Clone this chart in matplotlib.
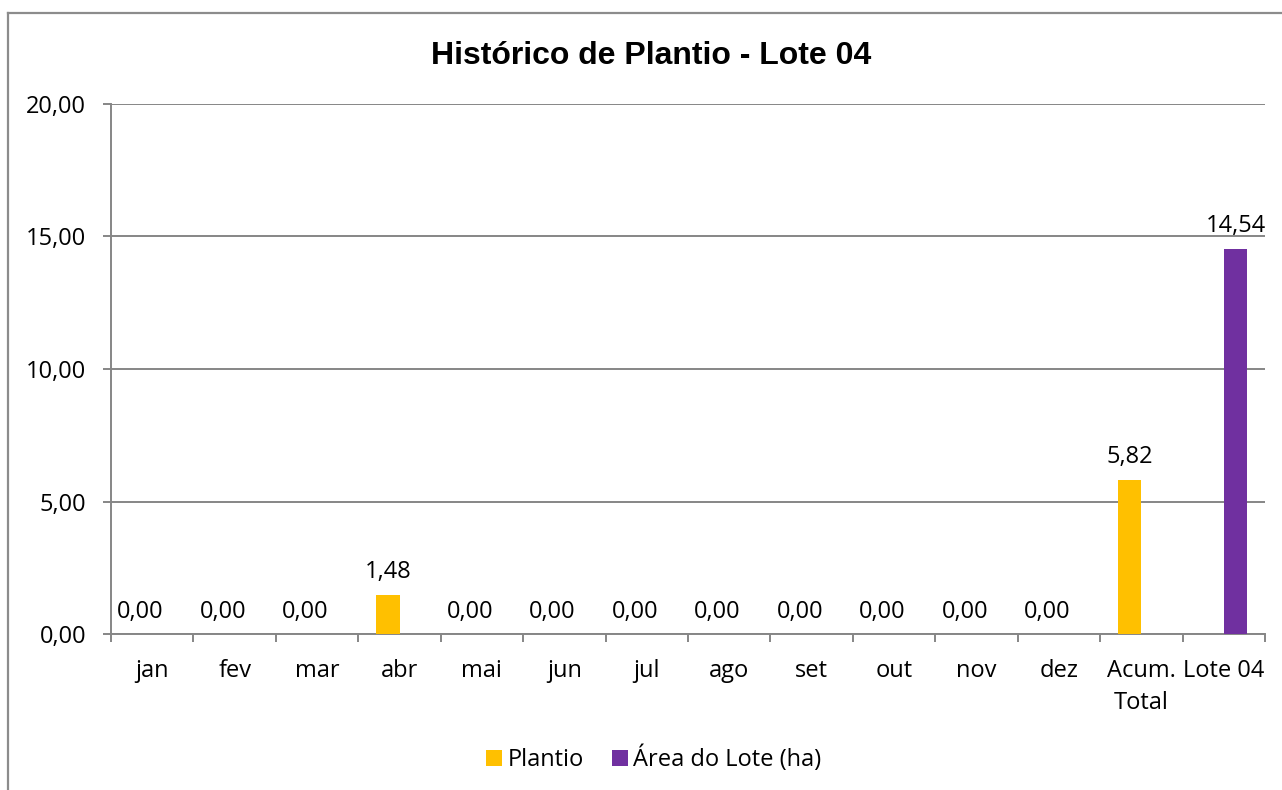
import matplotlib
matplotlib.use("Agg")
import matplotlib.pyplot as plt
from matplotlib.patches import Patch
from matplotlib.lines import Line2D
import numpy as np

categories = ["jan", "fev", "mar", "abr", "mai", "jun", "jul", "ago", "set",
              "out", "nov", "dez", "Acum.\nTotal", "Lote 04"]
plantio = [0.00, 0.00, 0.00, 1.48, 0.00, 0.00, 0.00, 0.00, 0.00,
           0.00, 0.00, 0.00, 5.82, None]
area_lote = [None] * 13 + [14.54]
series_names = ["Plantio", "Área do Lote (ha)"]
title = "Histórico de Plantio - Lote 04"
yticks = [0, 5, 10, 15, 20]

W, H = 1282, 790
fig = plt.figure(figsize=(W / 100, H / 100), dpi=100)
LF = "Open Sans"
FS = 17

# outer chart frame (cropped at right/bottom)
fig.add_artist(Line2D([8 / W, 1.0], [1 - 13 / H, 1 - 13 / H], color="#8c8c8c", lw=1.6))
fig.add_artist(Line2D([8 / W, 8 / W], [1 - 13 / H, 0.0], color="#8c8c8c", lw=1.6))

L, R, T, B = 111, 1265, 104, 634
ax = fig.add_axes([L / W, 1 - B / H, (R - L) / W, (B - T) / H])

n = len(categories)
x = np.arange(n)
w = 1 / 3.5

px = [xi - w / 2 for xi, v in zip(x, plantio) if v is not None]
pv = [v for v in plantio if v is not None]
ax_ = [xi + w / 2 for xi, v in zip(x, area_lote) if v is not None]
av = [v for v in area_lote if v is not None]

b1 = ax.bar(px, pv, width=w, color="#FFC000", zorder=3)
b2 = ax.bar(ax_, av, width=w, color="#7030A0", zorder=3)

def fmt(v):
    return f"{v:.2f}".replace(".", ",")

for xi, v in zip(px, pv):
    ax.annotate(fmt(v), (xi, v), xytext=(0, 7.5), textcoords="offset points",
                ha="center", va="bottom", fontsize=FS, fontfamily=LF, color="black")
for xi, v in zip(ax_, av):
    ax.annotate(fmt(v), (xi, v), xytext=(0, 7.5), textcoords="offset points",
                ha="center", va="bottom", fontsize=FS, fontfamily=LF, color="black")

ax.set_xlim(-0.5, n - 0.5)
ax.set_ylim(0, 20)
ax.set_yticks(yticks)
ax.set_yticklabels([fmt(v) for v in yticks], fontsize=FS, fontfamily=LF)
ax.yaxis.grid(True, color="#868686", lw=1.4, zorder=0)

ax.set_xticks(np.arange(n + 1) - 0.5)
ax.set_xticklabels([])
ax.set_xticks(x, minor=True)
ax.set_xticklabels(categories, minor=True, fontsize=FS, fontfamily=LF, linespacing=1.45)
ax.tick_params(axis="x", which="minor", length=0, pad=18)
ax.tick_params(axis="x", which="major", length=6, width=1.4, color="#868686", direction="out")
ax.tick_params(axis="y", length=6, width=1.4, color="#868686", pad=12)

for s in ["top", "right"]:
    ax.spines[s].set_visible(False)
for s in ["left", "bottom"]:
    ax.spines[s].set_color("#868686")
    ax.spines[s].set_linewidth(1.4)

fig.text(651 / W, 1 - 56 / H, title, ha="center", va="center",
         fontsize=23, fontweight="bold", fontfamily="Liberation Sans")

handles = [Patch(facecolor="#FFC000", edgecolor="none"),
           Patch(facecolor="#7030A0", edgecolor="none")]
fig.legend(handles, series_names, loc="center", bbox_to_anchor=(654 / W, 1 - 759 / H),
           ncol=2, frameon=False, prop={"family": LF, "size": FS},
           handlelength=0.65, handleheight=0.65, handletextpad=0.25, columnspacing=1.2)

fig.savefig("out.png", dpi=100)
